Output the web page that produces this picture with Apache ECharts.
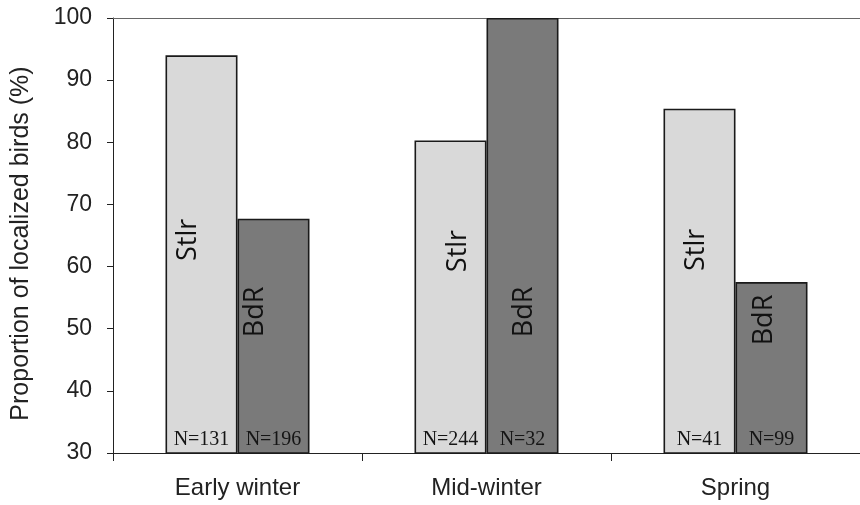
<!DOCTYPE html>
<html>
<head>
<meta charset="utf-8">
<script src="https://cdn.jsdelivr.net/npm/echarts@6/dist/echarts.min.js"></script>
<style>
html,body{margin:0;padding:0;background:#fff;}
#chart{width:860px;height:505px;}
</style>
</head>
<body>
<div id="chart"></div>
<script>
const categories = ['Early winter', 'Mid-winter', 'Spring'];
const stlrValues = [94.0, 80.3, 85.4];
const bdrValues = [67.7, 100, 57.5];
const stlrN = ['N=131', 'N=244', 'N=41'];
const bdrN = ['N=196', 'N=32', 'N=99'];
const seriesNames = ['Stlr', 'BdR'];
const yTicks = { min: 30, max: 100, interval: 10 };
const yTitle = 'Proportion of localized birds (%)';

// layout of the rotated series name inside each bar: centre height (axis units) and x offset within bar (px)
const stlrLabelAt = [64.3, 62.5, 62.7];
const bdrLabelAt = [52.7, 52.7, 51.4];
const stlrLabelX = [23, 44, 33];
const bdrLabelX = [18, 38, 29];

const chart = echarts.init(document.getElementById('chart'));
const pxPerUnit = 435 / (yTicks.max - yTicks.min);

function nameLabel(vals, at, xs, name) {
  return vals.map((v, i) => ({
    value: v,
    label: {
      show: true,
      formatter: name,
      rotate: 90,
      position: [xs[i], (v - at[i]) * pxPerUnit],
      align: 'center',
      verticalAlign: 'middle',
      fontFamily: 'Open Sans',
      fontSize: 27,
      color: '#111'
    }
  }));
}

const barCommon = {
  type: 'bar',
  barWidth: 72,
  barGap: '0%'
};

const nLabel = {
  show: true,
  position: 'insideBottom',
  distance: 3,
  fontFamily: 'Liberation Serif',
  fontSize: 20,
  color: '#151515'
};

const textStyle = { fontFamily: 'Liberation Sans', color: '#222' };

chart.setOption({
  animation: false,
  backgroundColor: '#fff',
  grid: { left: 113, right: -3, top: 18, bottom: 52 },
  xAxis: [{
    type: 'category',
    data: categories,
    axisLine: { lineStyle: { color: '#222', width: 1 } },
    axisTick: { show: true, length: 8, lineStyle: { color: '#222' } },
    axisLabel: Object.assign({ fontSize: 24, margin: 23 }, textStyle)
  }, {
    type: 'category',
    data: categories,
    position: 'top',
    axisLine: { show: true, lineStyle: { color: '#666', width: 1 } },
    axisTick: { show: false },
    axisLabel: { show: false }
  }],
  yAxis: {
    type: 'value',
    min: yTicks.min, max: yTicks.max, interval: yTicks.interval,
    name: yTitle,
    nameLocation: 'middle',
    nameGap: 79,
    nameTextStyle: Object.assign({ fontSize: 25, padding: [0, 16, 0, 0] }, textStyle),
    axisLine: { show: true, lineStyle: { color: '#222', width: 1 } },
    axisTick: { show: true, length: 6, lineStyle: { color: '#222' } },
    axisLabel: Object.assign({ fontSize: 23, margin: 21 }, textStyle),
    splitLine: { show: false }
  },
  series: [
    Object.assign({}, barCommon, {
      name: seriesNames[0], xAxisIndex: 0,
      data: nameLabel(stlrValues, stlrLabelAt, stlrLabelX, seriesNames[0]),
      itemStyle: { color: '#d9d9d9', borderColor: '#1a1a1a', borderWidth: 1.6 }
    }),
    Object.assign({}, barCommon, {
      name: seriesNames[1], xAxisIndex: 0,
      data: nameLabel(bdrValues, bdrLabelAt, bdrLabelX, seriesNames[1]),
      itemStyle: { color: '#7a7a7a', borderColor: '#1a1a1a', borderWidth: 1.6 }
    }),
    Object.assign({}, barCommon, {
      xAxisIndex: 1, silent: true,
      data: stlrValues.map((v, i) => ({ value: v, label: Object.assign({}, nLabel, { formatter: stlrN[i] }) })),
      itemStyle: { color: 'transparent', borderWidth: 0 }
    }),
    Object.assign({}, barCommon, {
      xAxisIndex: 1, silent: true,
      data: bdrValues.map((v, i) => ({ value: v, label: Object.assign({}, nLabel, { formatter: bdrN[i] }) })),
      itemStyle: { color: 'transparent', borderWidth: 0 }
    })
  ]
});
</script>
</body>
</html>
